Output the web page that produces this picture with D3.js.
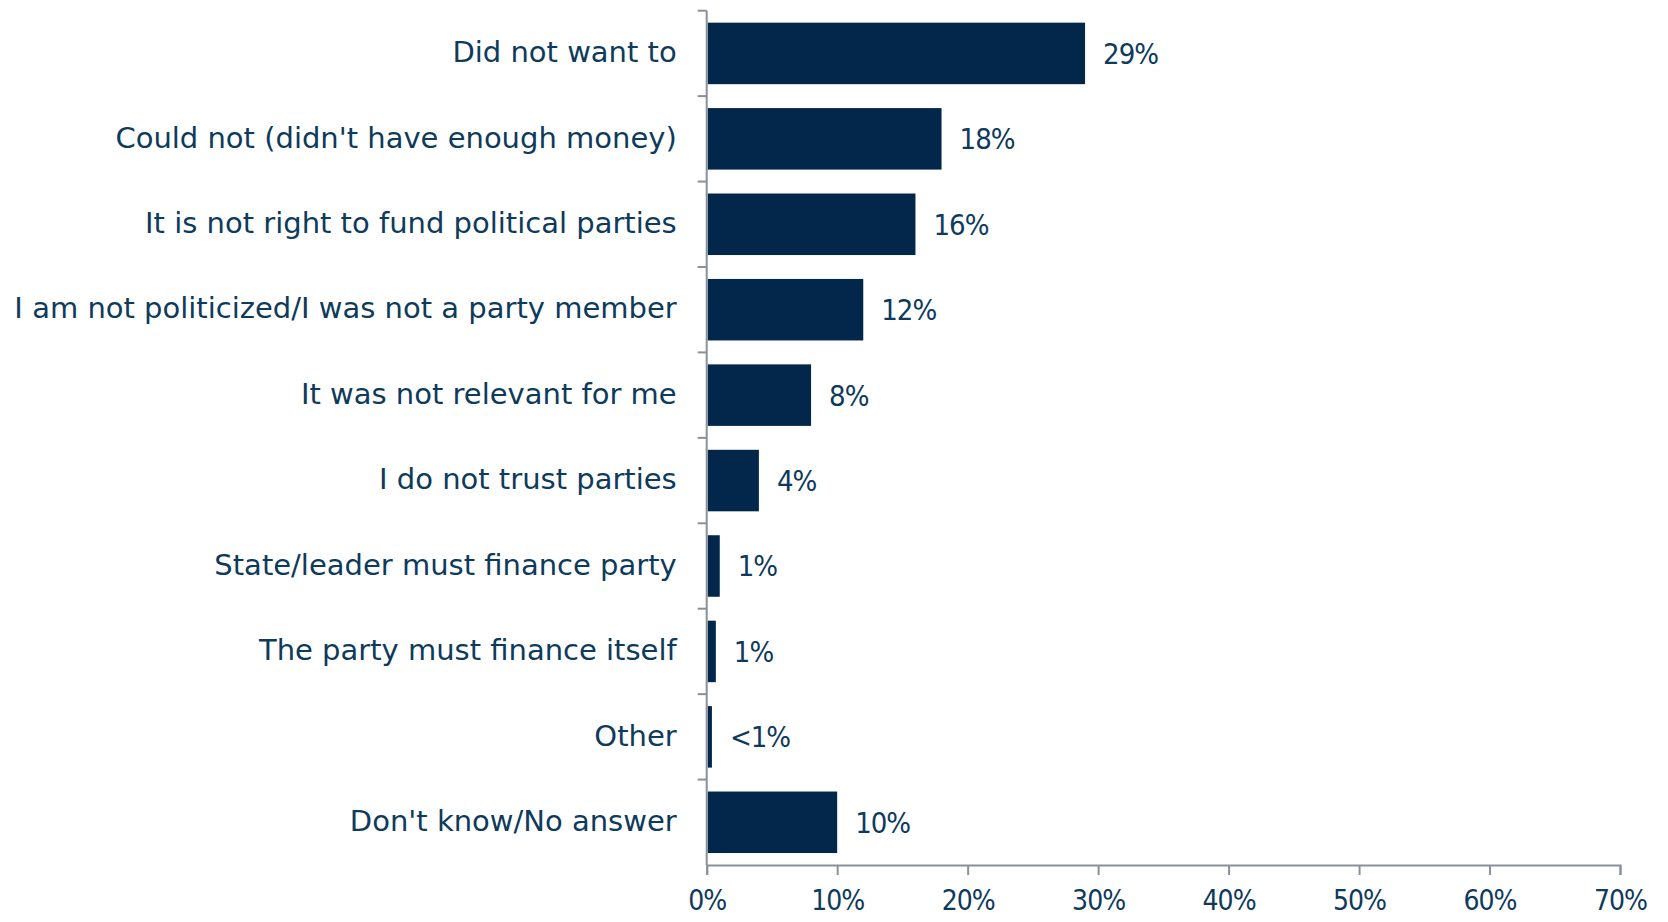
<!DOCTYPE html>
<html><head><meta charset="utf-8">
<script src="https://cdn.jsdelivr.net/npm/d3@7"></script>
<style>
body{margin:0;background:#fff;}
svg text{font-family:"DejaVu Sans Condensed","DejaVu Sans",sans-serif;font-stretch:condensed;fill:#0e3a5c;}
svg .cat text{font-family:"DejaVu Sans",sans-serif;font-stretch:normal;}
</style></head><body>
<svg id="chart" width="1668" height="922"></svg>
<script>
const categories = ["Did not want to","Could not (didn't have enough money)","It is not right to fund political parties","I am not politicized/I was not a party member","It was not relevant for me","I do not trust parties","State/leader must finance party","The party must finance itself","Other","Don't know/No answer"];
const values = [29,18,16,12,8,4,1,0.7,0.4,10];
const valueLabels = ["29%","18%","16%","12%","8%","4%","1%","1%","<1%","10%"];
const xTicks = [0,10,20,30,40,50,60,70];

const svg = d3.select("#chart");
const x0 = 706.7, x1 = 1620, yTop = 10.7, yBot = 865;
const x = d3.scaleLinear().domain([0,70]).range([x0,x1]);
const y = d3.scaleBand().domain(categories).range([yTop,yBot]).paddingInner(0.28).paddingOuter(0.14);
const axisColor = "#8a9099";

// bars
svg.append("g").selectAll("rect").data(values).join("rect")
  .attr("x", x(0)+1).attr("y",(d,i)=>y(categories[i]))
  .attr("width", d=>Math.max(0,x(d)-x(0)-1)).attr("height", y.bandwidth())
  .attr("fill","#02274a");

// value labels
svg.append("g").selectAll("text").data(values).join("text")
  .attr("x", d=>x(d)+18).attr("y",(d,i)=>y(categories[i])+y.bandwidth()/2)
  .attr("dy","0.36em").attr("font-size",29).attr("letter-spacing",-1).text((d,i)=>valueLabels[i]);

// category axis
const gy = svg.append("g").attr("class","cat").attr("transform",`translate(${x0},0)`)
  .call(d3.axisLeft(y).tickSize(0).tickPadding(30));
gy.select(".domain").remove();
gy.selectAll("text").attr("font-size",29).attr("fill","#0e3a5c").attr("dy","0.3em");
gy.append("line").attr("x1",0).attr("x2",0).attr("y1",yTop).attr("y2",yBot).attr("stroke",axisColor).attr("stroke-width",2);
const bounds = categories.map(c=>y(c)-y.step()*y.paddingInner()/2);
gy.selectAll(".bt").data(bounds).join("line").attr("class","bt")
  .attr("x1",-9).attr("x2",0).attr("y1",d=>d).attr("y2",d=>d).attr("stroke",axisColor).attr("stroke-width",2);

// x axis
const gx = svg.append("g").attr("transform",`translate(0,${yBot})`)
  .call(d3.axisBottom(x).tickValues(xTicks).tickSize(10).tickPadding(15).tickFormat(d=>d+"%"));
gx.select(".domain").attr("stroke",axisColor).attr("stroke-width",2);
gx.selectAll(".tick line").attr("stroke",axisColor).attr("stroke-width",2);
gx.selectAll("text").attr("font-size",28).attr("letter-spacing",-1).attr("fill","#0e3a5c");
</script></body></html>
